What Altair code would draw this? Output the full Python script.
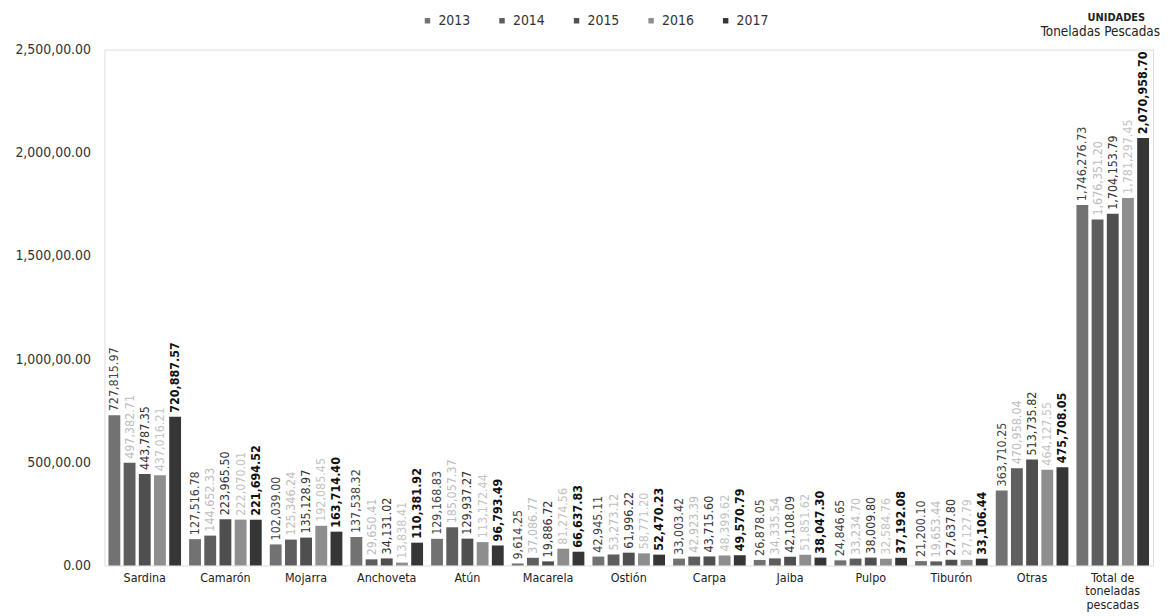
import altair as alt
import pandas as pd

categories = ["Sardina", "Camarón", "Mojarra", "Anchoveta", "Atún", "Macarela", "Ostión",
              "Carpa", "Jaiba", "Pulpo", "Tiburón", "Otras", "Total de|toneladas|pescadas"]
years = ["2013", "2014", "2015", "2016", "2017"]

v2013 = [727815.97, 127516.78, 102039.00, 137538.32, 129168.83, 9614.25, 42945.11,
         33003.42, 26878.05, 24846.65, 21200.10, 363710.25, 1746276.73]
v2014 = [497382.71, 144652.33, 125346.24, 29650.41, 185057.37, 37086.77, 53273.12,
         42923.39, 34335.54, 33234.70, 19653.44, 470958.04, 1676351.20]
v2015 = [443787.35, 223965.50, 135128.97, 34131.02, 129937.27, 19886.72, 61996.22,
         43715.60, 42108.09, 38009.80, 27637.80, 513735.82, 1704153.79]
v2016 = [437016.21, 222070.01, 192085.45, 13838.41, 113172.44, 81274.56, 58771.20,
         48399.62, 51851.62, 32584.76, 27127.79, 464127.55, 1781297.45]
v2017 = [720887.57, 221694.52, 163714.40, 110381.92, 96793.49, 66637.83, 52470.23,
         49570.79, 38047.30, 37192.08, 33106.44, 475708.05, 2070958.70]

bar_colors = ["#727272", "#5e5e5e", "#4f4f4f", "#8e8e8e", "#363636"]
label_colors = ["#444444", "#bdbdbd", "#333333", "#c4c4c4", "#111111"]

rows = []
for y, vals in zip(years, [v2013, v2014, v2015, v2016, v2017]):
    for c, v in zip(categories, vals):
        rows.append({"cat": c, "year": y, "value": v})
df = pd.DataFrame(rows)

FONT = "Liberation Sans Narrow, DejaVu Sans Condensed, Roboto, sans-serif"

x_enc = alt.X("cat:N", sort=categories, title=None,
              scale=alt.Scale(paddingInner=0.1, paddingOuter=0.05),
              axis=alt.Axis(labelExpr="split(datum.label, '|')", labelAngle=0,
                            ticks=False, domain=False, labelPadding=6,
                            labelFontSize=12.5, labelColor="#222222", labelFont=FONT,
                            labelLineHeight=13.5))
xoff = alt.XOffset("year:N", sort=years, scale=alt.Scale(paddingInner=0.22))
y_enc = alt.Y("value:Q", title=None,
              scale=alt.Scale(domain=[0, 2500000], nice=False),
              axis=alt.Axis(values=[0, 500000, 1000000, 1500000, 2000000, 2500000],
                            labelExpr="datum.value == 0 ? '0.00' : format(datum.value/1000, ',') + ',00.00'",
                            grid=False, ticks=False, domain=False, labelPadding=14,
                            labelFontSize=14, labelColor="#333333", labelFont=FONT))

base = alt.Chart(df)

bars = base.mark_bar().encode(
    x=x_enc, xOffset=xoff, y=y_enc,
    color=alt.Color("year:N", sort=years,
                    scale=alt.Scale(domain=years, range=bar_colors),
                    legend=alt.Legend(orient="none", direction="horizontal", title=None,
                                      legendX=318, legendY=-36, symbolType="square",
                                      symbolSize=30, labelFontSize=14, labelFont=FONT,
                                      labelColor="#333333", columnPadding=24,
                                      symbolStrokeWidth=0)),
)

labels = base.transform_filter("datum.year != '2017'").mark_text(
    angle=270, align="left", baseline="middle", dx=4, fontSize=12.5, font=FONT
).encode(
    x=x_enc, xOffset=xoff, y=y_enc,
    text=alt.Text("value:Q", format=",.2f"),
    color=alt.Color("year:N", scale=alt.Scale(domain=years, range=label_colors), legend=None),
)

labels17 = base.transform_filter("datum.year == '2017'").mark_text(
    angle=270, align="left", baseline="middle", dx=4, fontSize=12.5, font=FONT,
    fontWeight="bold", color="#111111"
).encode(
    x=x_enc, xOffset=xoff, y=y_enc,
    text=alt.Text("value:Q", format=",.2f"),
)

unidades = alt.Chart(pd.DataFrame({"t": ["UNIDADES"]})).mark_text(
    align="right", baseline="bottom", fontSize=11, fontWeight="bold", font=FONT, color="#222222"
).encode(x=alt.value(1047), y=alt.value(-27), text="t:N")

toneladas = alt.Chart(pd.DataFrame({"t": ["Toneladas Pescadas"]})).mark_text(
    align="right", baseline="middle", fontSize=13.5, font=FONT, color="#222222"
).encode(x=alt.value(1062), y=alt.value(-18), text="t:N")

chart = alt.layer(bars, labels, labels17, unidades, toneladas).resolve_scale(
    color="independent"
).properties(
    width=1055, height=519,
    autosize=alt.AutoSizeParams(type="none"),
    padding={"left": 97, "top": 40, "right": 12, "bottom": 48},
).configure_view(stroke=None).configure(background="white")

chart.save("out.html", embed_options={"renderer": "svg", "actions": False})
